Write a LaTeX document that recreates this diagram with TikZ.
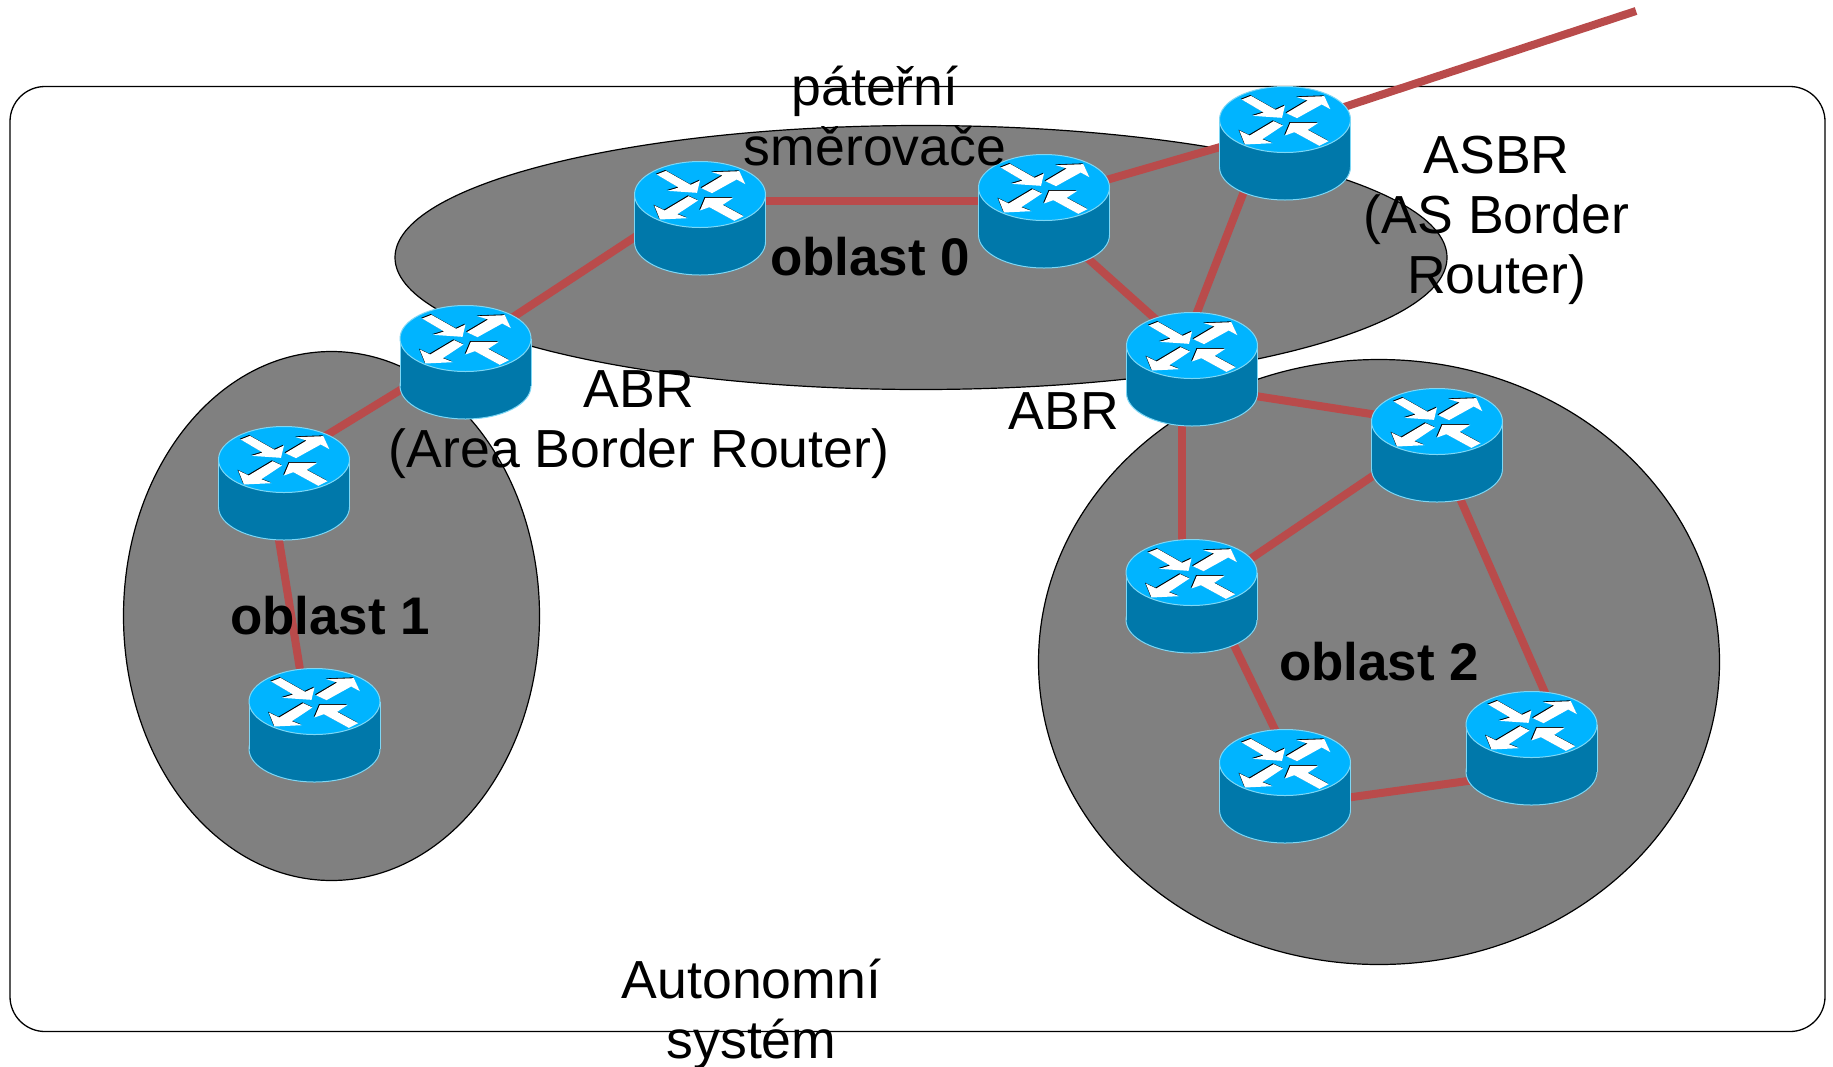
\documentclass[tikz,border=0pt]{standalone}
\usepackage{fontspec}
\setmainfont{Liberation Sans}
\usetikzlibrary{calc}
\definecolor{areagray}{RGB}{128,128,128}
\definecolor{linkred}{RGB}{185,75,75}
\definecolor{rtop}{RGB}{0,180,255}
\definecolor{rbody}{RGB}{0,120,170}
\definecolor{redge}{RGB}{125,215,245}
\tikzset{
  area/.style={fill=areagray,draw=black,line width=1.2pt},
  link/.style={draw=linkred,line width=8pt},
  lbl/.style={inner sep=0pt,align=center,text=black,font=\fontsize{53.6}{60}\selectfont},
  blbl/.style={lbl,font=\fontsize{52.9}{60}\selectfont\bfseries},
  router/.pic={
    \path[fill=rbody,draw=redge,line width=1pt] (0,23.5) ellipse [x radius=65.5,y radius=33];
    \path[fill=rbody] (-65.5,-24) rectangle (65.5,23.5);
    \draw[redge,line width=1pt] (-65.5,-24) -- (-65.5,23.5) (65.5,-24) -- (65.5,23.5);
    \path[fill=rtop,draw=redge,line width=1pt] (0,-24) ellipse [x radius=65.5,y radius=33];
    \begin{scope}[shift={(-70.67,-63)},x=.3333pt,y=-.3333pt]
      \foreach \dx/\dy/\col in {-2.4/-2.4/black,0/0/white}{
        \fill[\col,shift={(\dx,\dy)}] (82,57)--(110,46)--(184,88)--(212,75)--(203,112)--(115,106)--(148,96)--cycle;
        \fill[\col,shift={(\dx,\dy)}] (216,98)--(280,60)--(248,50)--(330,47)--(348,86)--(322,72)--(248,113)--cycle;
        \fill[\col,shift={(\dx,\dy)}] (178,122)--(206,135)--(144,176)--(175,188)--(92,192)--(75,150)--(106,165)--cycle;
        \fill[\col,shift={(\dx,\dy)}] (343,182)--(315,196)--(240,155)--(212,165)--(228,127)--(312,127)--(280,148)--cycle;
      }
    \end{scope}
  }
}
\begin{document}
\begin{tikzpicture}[x=1pt,y=-1pt]
\useasboundingbox (0,0) rectangle (1833,1066);
\fill[white] (0,0) rectangle (1833,1066);
\draw[black,line width=1.3pt,rounded corners=35pt] (10,86.5) rectangle (1825,1031.5);
\path[area] (921,257.5) ellipse [x radius=526,y radius=132];
\path[area] (331.5,616) ellipse [x radius=208,y radius=264.5];
\path[area] (1379,662) ellipse [x radius=340.5,y radius=302.5];
\coordinate (asbr) at (1285,143.5);
\coordinate (ra) at (700,218.5);
\coordinate (rb) at (1044,211.5);
\coordinate (abrr) at (1192,369.5);
\coordinate (abrl) at (465.5,362.5);
\coordinate (oa) at (284,483.5);
\coordinate (ob) at (314.5,725.5);
\coordinate (ta) at (1437,445.5);
\coordinate (tb) at (1191.5,596.5);
\coordinate (tc) at (1285,786.5);
\coordinate (td) at (1531.5,748.5);
\coordinate (ext) at (1636,11);
\draw[link] ($(ra)+(20,-18)$) -- ($(rb)+(-24,-11)$);
\draw[link] ($(abrl)+(15,-24)$) -- ($(ra)+(-40,2)$);
\draw[link] ($(rb)+(26,-21)$) -- ($(asbr)+(-25,-8)$);
\draw[link] ($(rb)+(16,22)$) -- ($(abrr)+(-7,-24)$);
\draw[link] ($(asbr)+(-29,17)$) -- ($(abrr)+(-4,-34)$);
\draw[link] ($(asbr)+(15,-22)$) -- (ext);
\draw[link] ($(abrl)+(-35,9)$) -- ($(oa)+(16,-32)$);
\draw[link] ($(oa)+(-9,32)$) -- ($(ob)+(-9.5,-25)$);
\draw[link] ($(abrr)+(28,21)$) -- ($(ta)+(-37,-27)$);
\draw[link] ($(abrr)+(-10,31)$) -- ($(tb)+(-9.5,-36)$);
\draw[link] ($(ta)+(-37,12)$) -- ($(tb)+(28.5,-17)$);
\draw[link] ($(ta)+(13,30)$) -- ($(td)+(23.5,-33)$);
\draw[link] ($(tb)+(30.5,24)$) -- ($(tc)+(5,-26)$);
\draw[link] ($(tc)+(35,15)$) -- ($(td)+(-31.5,28)$);
\foreach \r in {asbr,ra,rb,abrr,abrl,oa,ob,ta,tb,tc,td}{\pic at (\r) {router};}
\node[lbl] (tpater) at (875,116) {páteřní\\směrovače};
\node[lbl] (tasbr) at (1496.5,220) {ASBR\\(AS Border\\Router)};
\node[lbl] (tabrl) at (639,425) {ABR\\(Area Border Router)};
\node[lbl] (tabrr) at (1064,411) {ABR};
\node[lbl] (tauto) at (751.5,1014) {Autonomní\\systém};
\node[blbl] (tobl0) at (870,257) {oblast 0};
\node[blbl] (tobl1) at (330,616) {oblast 1};
\node[blbl] (tobl2) at (1379,662) {oblast 2};
\end{tikzpicture}
\end{document}
